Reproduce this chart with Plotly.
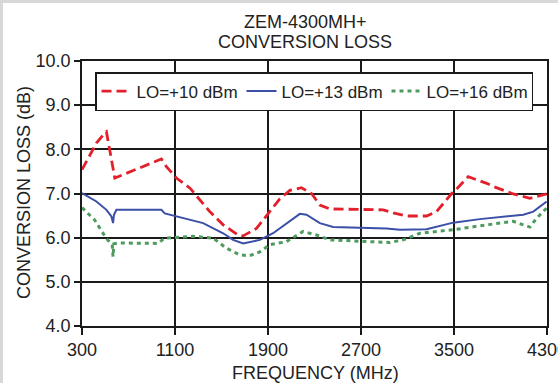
import plotly.graph_objects as go

# ---- data ----
freq_lo10 = [300, 424, 495, 510, 538, 582, 983, 1026, 1112, 1229, 1399, 1514, 1643, 1686, 1801, 1901,
             2002, 2088, 2188, 2274, 2346, 2432, 2776, 2891, 2977, 3092, 3264, 3350, 3436, 3493, 3522,
             3622, 3781, 3838, 4010, 4153, 4297]
loss_lo10 = [7.54, 8.14, 8.37, 8.40, 7.99, 7.35, 7.78, 7.61, 7.35, 7.12, 6.59, 6.29, 6.06, 6.04, 6.21, 6.55,
             6.88, 7.07, 7.13, 7.00, 6.74, 6.65, 6.63, 6.63, 6.56, 6.49, 6.49, 6.59, 6.86, 7.04, 7.10,
             7.38, 7.23, 7.16, 6.99, 6.89, 6.99]

freq_lo13 = [300, 424, 510, 553, 567, 575, 596, 983, 1012, 1100, 1342, 1514, 1600, 1686, 1830, 1944,
             2059, 2174, 2231, 2346, 2460, 2920, 3035, 3264, 3493, 3723, 4096, 4182, 4297]
loss_lo13 = [7.01, 6.82, 6.63, 6.48, 6.33, 6.52, 6.63, 6.63, 6.55, 6.49, 6.33, 6.10, 5.95, 5.87, 5.95, 6.10,
             6.33, 6.54, 6.52, 6.33, 6.24, 6.21, 6.18, 6.19, 6.34, 6.42, 6.52, 6.59, 6.82]

freq_lo16 = [300, 409, 510, 560, 567, 574, 610, 952, 1012, 1255, 1428, 1543, 1657, 1743, 1830, 1916,
             2059, 2202, 2317, 2432, 2948, 3063, 3207, 3493, 3781, 4010, 4096, 4153, 4211, 4297]
loss_lo16 = [6.68, 6.40, 5.98, 5.84, 5.57, 5.86, 5.88, 5.87, 5.99, 6.03, 5.99, 5.76, 5.61, 5.59, 5.68, 5.84,
             5.91, 6.14, 6.06, 5.95, 5.89, 5.95, 6.10, 6.18, 6.29, 6.37, 6.29, 6.24, 6.44, 6.67]

x_ticks = [300, 1100, 1900, 2700, 3500, 4300]
y_ticks = [4.0, 5.0, 6.0, 7.0, 8.0, 9.0, 10.0]

FONT = "Liberation Sans, Arial, sans-serif"
TXT = "#222222"

fig = go.Figure()
fig.add_trace(go.Scatter(x=freq_lo10, y=loss_lo10, mode="lines", name="LO=+10 dBm",
                         line=dict(color="#e3202a", width=2.8, dash="10px,5px")))
fig.add_trace(go.Scatter(x=freq_lo13, y=loss_lo13, mode="lines", name="LO=+13 dBm",
                         line=dict(color="#3b4fa6", width=2)))
fig.add_trace(go.Scatter(x=freq_lo16, y=loss_lo16, mode="lines", name="LO=+16 dBm",
                         line=dict(color="#4f9a5e", width=3, dash="4px,4px")))

W, H = 558, 383
L, R, T, B = 82, 11, 61, 57
pw, ph = W - L - R, H - T - B

def px(xp):
    return (xp - L) / pw

def py(yp):
    return 1 - (yp - T) / ph

axis_common = dict(showline=True, mirror=True, linecolor="#1a1a1a", linewidth=1.5,
                   showgrid=True, gridcolor="#1a1a1a", gridwidth=1.5,
                   ticks="outside", tickcolor="#1a1a1a", tickwidth=1.5,
                   tickfont=dict(family=FONT, size=18, color=TXT), zeroline=False,
                   ticklabeloverflow="allow", automargin=False)

fig.update_xaxes(range=[300, 4300], tickvals=x_ticks, ticktext=[str(v) for v in x_ticks],
                 ticklen=7, **axis_common)
fig.update_yaxes(range=[4, 10], tickvals=y_ticks, tickformat=".1f", ticklen=6, **axis_common)

annotations = [
    dict(text="ZEM-4300MH+", x=px(305), y=py(22), xref="paper", yref="paper",
         showarrow=False, font=dict(family=FONT, size=18, color=TXT), xanchor="center", yanchor="middle"),
    dict(text="CONVERSION LOSS", x=px(305), y=py(42), xref="paper", yref="paper",
         showarrow=False, font=dict(family=FONT, size=18, color=TXT), xanchor="center", yanchor="middle"),
    dict(text="FREQUENCY (MHz)", x=px(315), y=py(373), xref="paper", yref="paper",
         showarrow=False, font=dict(family=FONT, size=18, color=TXT), xanchor="center", yanchor="middle"),
    dict(text="CONVERSION LOSS (dB)", x=px(24), y=py(193), xref="paper", yref="paper", textangle=-90,
         showarrow=False, font=dict(family=FONT, size=18, color=TXT), xanchor="center", yanchor="middle"),
]

shapes = [
    dict(type="rect", xref="paper", yref="paper", x0=px(0), x1=px(3), y0=py(H), y1=py(0),
         fillcolor="#d8d8d8", line=dict(width=0), layer="below"),
    dict(type="rect", xref="paper", yref="paper", x0=px(0), x1=px(W), y0=py(3), y1=py(0),
         fillcolor="#d8d8d8", line=dict(width=0), layer="below"),
]

fig.update_layout(
    width=W, height=H,
    margin=dict(l=L, r=R, t=T, b=B, autoexpand=False),
    paper_bgcolor="white", plot_bgcolor="white",
    showlegend=True,
    legend=dict(orientation="h", x=px(95), y=py(72), xanchor="left", yanchor="top",
                bgcolor="white", bordercolor="#1a1a1a", borderwidth=1.5,
                font=dict(family=FONT, size=17, color=TXT), itemwidth=30,
                entrywidth=100, entrywidthmode="pixels", tracegroupgap=0),
    annotations=annotations,
    shapes=shapes,
)

fig.write_html("out.html")
